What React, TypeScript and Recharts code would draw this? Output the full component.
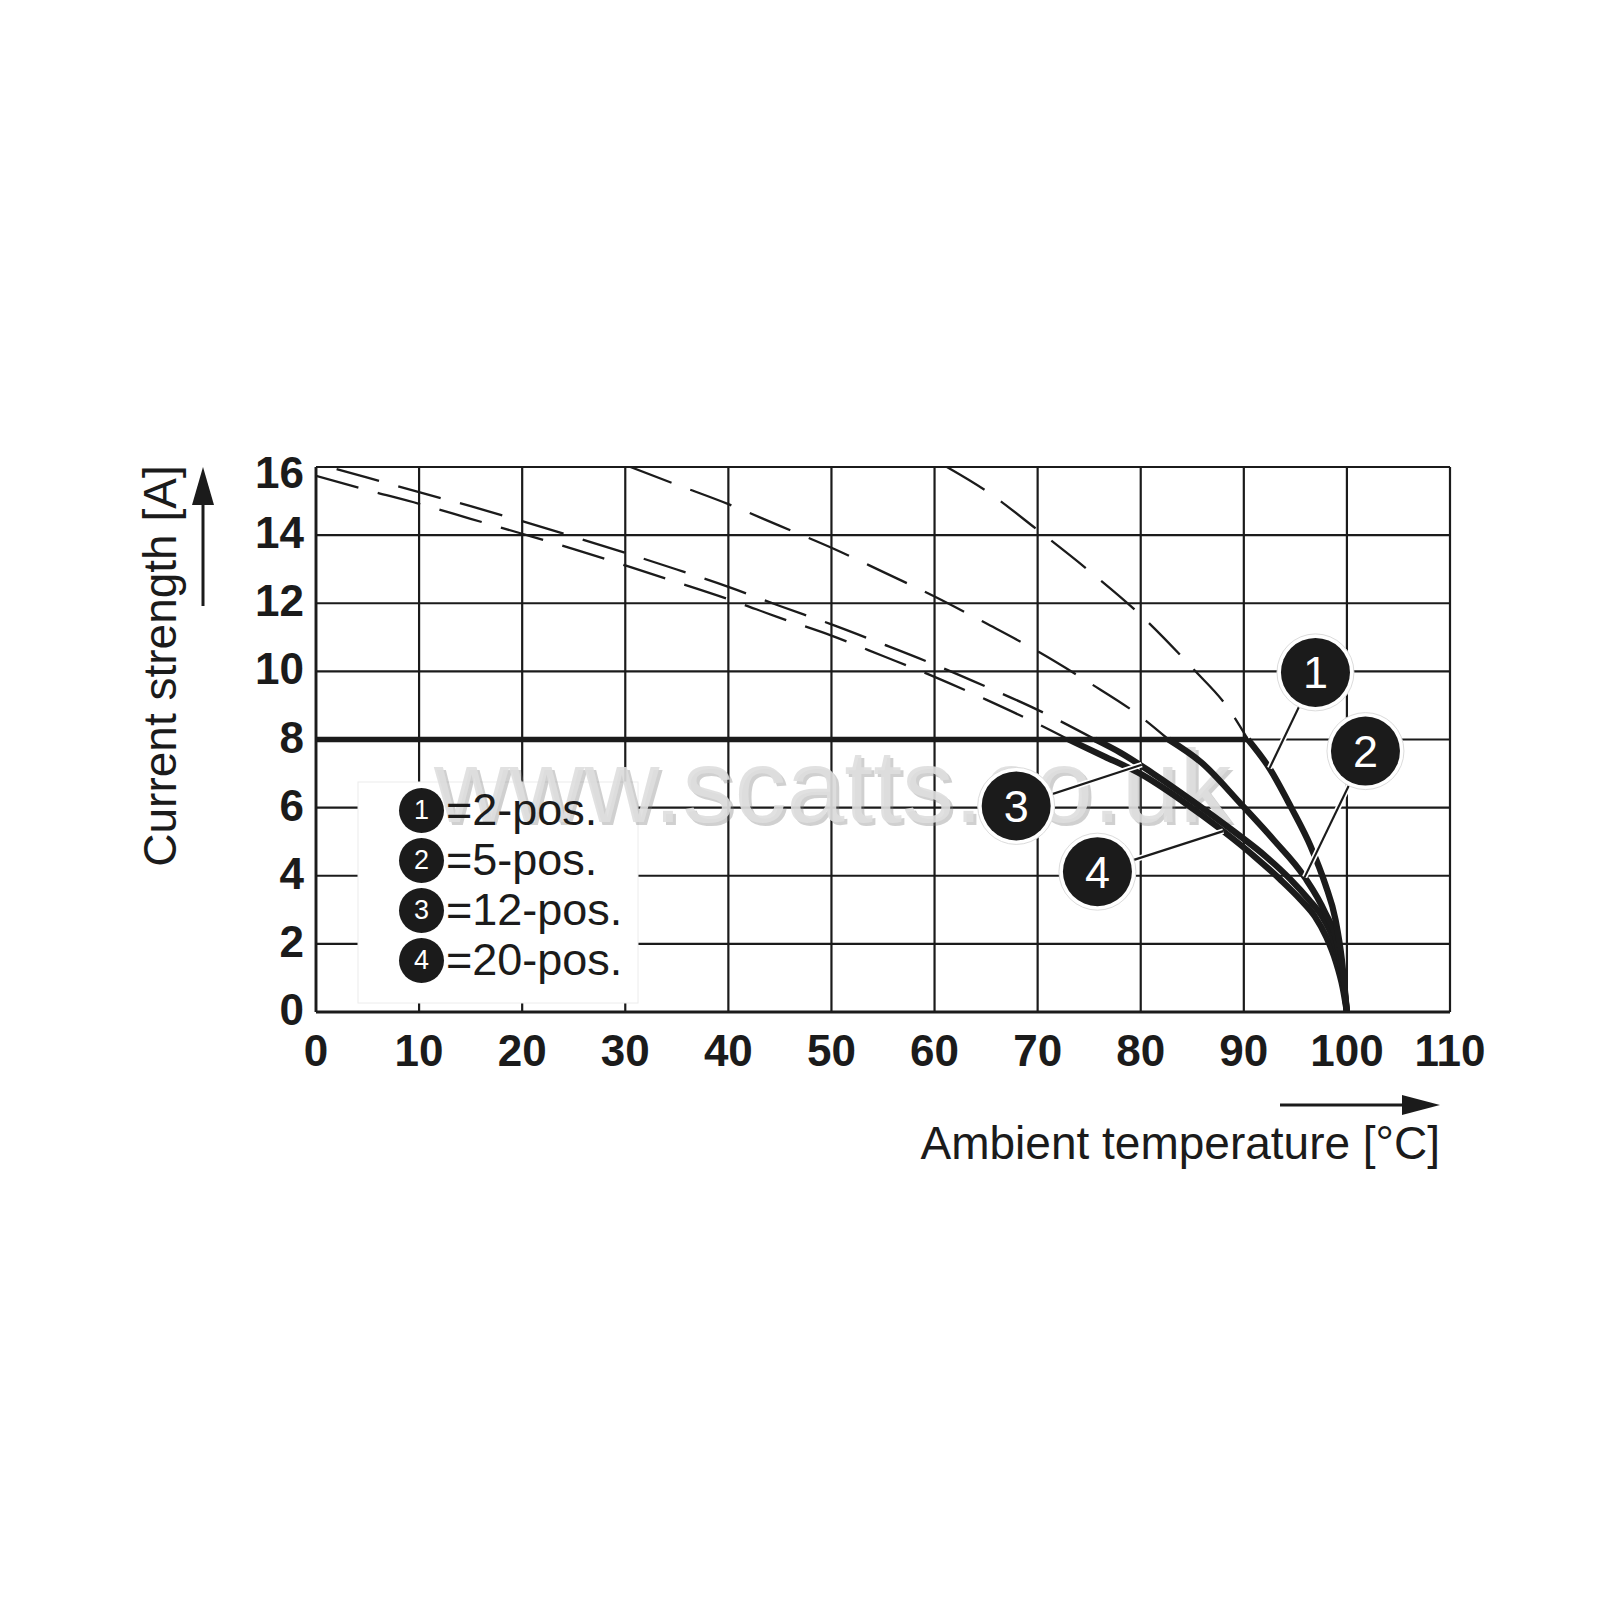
import React from 'react';
import { ComposedChart, Line, XAxis, YAxis, CartesianGrid, ReferenceDot, Legend } from 'recharts';

const INK = '#1b1b1b';
const FONT = "'Liberation Sans', Arial, Helvetica, sans-serif";

// Axes
const X_TICKS = [0, 10, 20, 30, 40, 50, 60, 70, 80, 90, 100, 110];
const Y_TICKS = [0, 2, 4, 6, 8, 10, 12, 14, 16];

// Rated current plateau (solid, thick)
const RATED_X = [0, 90.4];
const RATED_Y = [8, 8];

// Derating curves (solid, thick) below 8 A
const C1_X = [90.4, 92.5, 94.6, 96.5, 97.9, 98.9, 99.5, 99.85, 100];
const C1_Y = [8, 7.15, 6.0, 4.85, 3.75, 2.7, 1.55, 0.5, 0];
const C2_X = [82.7, 85.9, 89.8, 92.9, 95.9, 97.85, 99.1, 99.6, 100];
const C2_Y = [8, 7.32, 6.08, 5.05, 3.96, 2.94, 1.95, 1.0, 0];
const C3_X = [75.6, 78, 81.2, 85, 89, 92.2, 94.5, 96.3, 97.6, 98.6, 99.3, 99.75, 100];
const C3_Y = [8, 7.62, 7.0, 6.2, 5.31, 4.55, 3.9, 3.3, 2.8, 2.2, 1.5, 0.7, 0];
const C4_X = [73, 76.5, 80.1, 84, 88, 91.1, 93.5, 95.5, 96.9, 98.0, 98.9, 99.6, 100];
const C4_Y = [8, 7.5, 6.97, 6.2, 5.31, 4.55, 3.9, 3.3, 2.8, 2.2, 1.5, 0.7, 0];

// Theoretical continuations above 8 A (dashed)
const D1_X = [61.2, 65, 70, 75, 80, 85, 88.6, 90.4];
const D1_Y = [16, 15.3, 14.15, 12.95, 11.65, 10.1, 8.87, 8.0];
const D2_X = [30.5, 35, 40, 45, 50, 55, 60, 65, 70, 75, 80, 82.7];
const D2_Y = [16, 15.48, 14.91, 14.27, 13.63, 12.92, 12.2, 11.41, 10.59, 9.67, 8.67, 8.0];
const D3_X = [2, 5, 10, 15, 20, 25, 30, 35, 40, 45, 50, 55, 60, 65, 70, 75.6];
const D3_Y = [15.94, 15.69, 15.26, 14.85, 14.41, 13.95, 13.48, 12.99, 12.48, 11.92, 11.38, 10.8, 10.2, 9.55, 8.87, 8.0];
const D4_X = [0, 5, 10, 15, 20, 25, 30, 35, 40, 45, 50, 55, 60, 65, 70, 73];
const D4_Y = [15.74, 15.32, 14.92, 14.48, 14.04, 13.59, 13.11, 12.62, 12.12, 11.57, 11.05, 10.45, 9.84, 9.17, 8.46, 8.0];

// Callout badges and their leader lines
const BADGE_LABELS = ['1', '2', '3', '4'];
const BADGE_X = [96.95, 101.8, 67.92, 75.8];
const BADGE_Y = [9.97, 7.66, 6.05, 4.12];
const LEADER_END_X = [92.5, 95.9, 80.1, 88.0];
const LEADER_END_Y = [7.16, 3.96, 7.26, 5.31];

// Legend
const LEGEND_NUMS = ['1', '2', '3', '4'];
const LEGEND_TEXT = ['=2-pos.', '=5-pos.', '=12-pos.', '=20-pos.'];

const pts = (xs: number[], ys: number[]) => xs.map((x, i) => ({ x, y: ys[i] }));

const XTick = (props: any) => {
  const { x, payload } = props;
  return (
    <text x={x} y={1058} textAnchor="middle" fontSize={44} fontWeight={700} fill={INK} fontFamily={FONT}>
      {payload.value}
    </text>
  );
};

const YTick = (props: any) => {
  const { y, payload } = props;
  const off = payload.value === 16 ? 21 : 13;
  return (
    <text x={296} y={y + off} textAnchor="end" fontSize={44} fontWeight={700} fill={INK} fontFamily={FONT}>
      {payload.value}
    </text>
  );
};

const makeBadge = (label: string) => (props: any) => {
  const { cx, cy } = props;
  return (
    <g>
      <circle cx={cx} cy={cy} r={38.5} fill="#fff" stroke="#dcdcdc" strokeWidth={1} />
      <circle cx={cx} cy={cy} r={34.5} fill={INK} />
      <text x={cx} y={cy + 16} textAnchor="middle" fontSize={45} fill="#fff" fontFamily={FONT}>
        {label}
      </text>
    </g>
  );
};

const renderLegend = () => (
  <div style={{ width: 280, height: 221, boxSizing: 'border-box', paddingTop: 3, paddingLeft: 41, fontFamily: FONT }}>
    {LEGEND_NUMS.map((n, i) => (
      <div key={n} style={{ display: 'flex', alignItems: 'center', height: 50 }}>
        <div
          style={{
            width: 45,
            height: 45,
            borderRadius: '50%',
            background: INK,
            color: '#fff',
            fontSize: 27,
            display: 'flex',
            alignItems: 'center',
            justifyContent: 'center',
            flex: '0 0 auto',
          }}
        >
          {n}
        </div>
        <span style={{ fontSize: 45, color: INK, marginLeft: 2, lineHeight: '50px', whiteSpace: 'nowrap' }}>
          {LEGEND_TEXT[i]}
        </span>
      </div>
    ))}
  </div>
);

const thick = { stroke: INK, strokeWidth: 6.3, dot: false, activeDot: false, isAnimationActive: false, legendType: 'none' as const };
const dashed = { stroke: INK, strokeWidth: 2.3, strokeDasharray: '44 20', dot: false, activeDot: false, isAnimationActive: false, legendType: 'none' as const };

export default function App() {
  return (
    <div style={{ width: 1500, height: 1200 }}>
      <ComposedChart width={1500} height={1200} margin={{ top: 459, right: 58, bottom: 100, left: 0 }}>
        <CartesianGrid stroke={INK} strokeWidth={2.2} strokeOpacity={1} />
        <XAxis
          type="number"
          dataKey="x"
          domain={[0, 110]}
          ticks={X_TICKS}
          interval={0}
          allowDataOverflow
          height={96}
          tickLine={false}
          tickSize={0}
          axisLine={{ stroke: INK, strokeWidth: 2.8 }}
          tick={<XTick />}
        />
        <YAxis
          type="number"
          dataKey="y"
          domain={[0, 16]}
          ticks={Y_TICKS}
          interval={0}
          allowDataOverflow
          width={308}
          tickLine={false}
          tickSize={0}
          tickMargin={12}
          axisLine={{ stroke: INK, strokeWidth: 2.8 }}
          tick={<YTick />}
        />

        {/* legend panel background */}
        <rect x={350} y={774} width={280} height={221} fill="#fff" stroke="#ececec" strokeWidth={1} />

        {/* watermark */}
        <text x={429} y={817} fontSize={104} fill="#777" fillOpacity={0.35} fontFamily={FONT}>www.scatts.co.uk</text>
        <text x={426} y={814} fontSize={104} fill="#dedede" fillOpacity={0.9} fontFamily={FONT}>www.scatts.co.uk</text>

        {/* axis titles and arrows */}
        <text x={1432} y={1151} textAnchor="end" fontSize={46} fill={INK} fontFamily={FONT}>Ambient temperature [°C]</text>
        <line x1={1272} y1={1097} x2={1396} y2={1097} stroke={INK} strokeWidth={3} />
        <polygon points="1394,1087 1432,1097 1394,1107" fill={INK} />
        <text
          x={168}
          y={658}
          textAnchor="middle"
          fontSize={46}
          fill={INK}
          fontFamily={FONT}
          transform="rotate(-90 168 658)"
        >
          Current strength [A]
        </text>
        <line x1={195} y1={598} x2={195} y2={495} stroke={INK} strokeWidth={3} />
        <polygon points="184,497 195,459 206,497" fill={INK} />

        <Line data={pts(D1_X, D1_Y)} dataKey="y" type="monotone" {...dashed} />
        <Line data={pts(D2_X, D2_Y)} dataKey="y" type="monotone" {...dashed} />
        <Line data={pts(D3_X, D3_Y)} dataKey="y" type="monotone" {...dashed} />
        <Line data={pts(D4_X, D4_Y)} dataKey="y" type="monotone" {...dashed} />

        <Line data={pts(RATED_X, RATED_Y)} dataKey="y" type="linear" {...thick} strokeWidth={5.6} />
        <Line data={pts(C4_X, C4_Y)} dataKey="y" type="monotone" {...thick} />
        <Line data={pts(C3_X, C3_Y)} dataKey="y" type="monotone" {...thick} />
        <Line data={pts(C2_X, C2_Y)} dataKey="y" type="monotone" {...thick} />
        <Line data={pts(C1_X, C1_Y)} dataKey="y" type="monotone" {...thick} />

        {BADGE_LABELS.map((b, i) => (
          <Line
            key={'halo' + b}
            data={pts([BADGE_X[i], LEADER_END_X[i]], [BADGE_Y[i], LEADER_END_Y[i]])}
            dataKey="y"
            type="linear"
            stroke="#fff"
            strokeWidth={5.5}
            dot={false}
            activeDot={false}
            isAnimationActive={false}
            legendType="none"
          />
        ))}
        {BADGE_LABELS.map((b, i) => (
          <Line
            key={'lead' + b}
            data={pts([BADGE_X[i], LEADER_END_X[i]], [BADGE_Y[i], LEADER_END_Y[i]])}
            dataKey="y"
            type="linear"
            stroke={INK}
            strokeWidth={2.2}
            dot={false}
            activeDot={false}
            isAnimationActive={false}
            legendType="none"
          />
        ))}

        {BADGE_LABELS.map((b, i) => (
          <ReferenceDot
            key={'badge' + b}
            x={BADGE_X[i]}
            y={BADGE_Y[i]}
            r={35}
            ifOverflow="visible"
            zIndex={1600}
            shape={makeBadge(b)}
          />
        ))}

        <Legend
          layout="horizontal"
          verticalAlign="middle"
          align="center"
          content={renderLegend}
          wrapperStyle={{ left: 350, top: 774, width: 280, height: 221 }}
        />
      </ComposedChart>
    </div>
  );
}
